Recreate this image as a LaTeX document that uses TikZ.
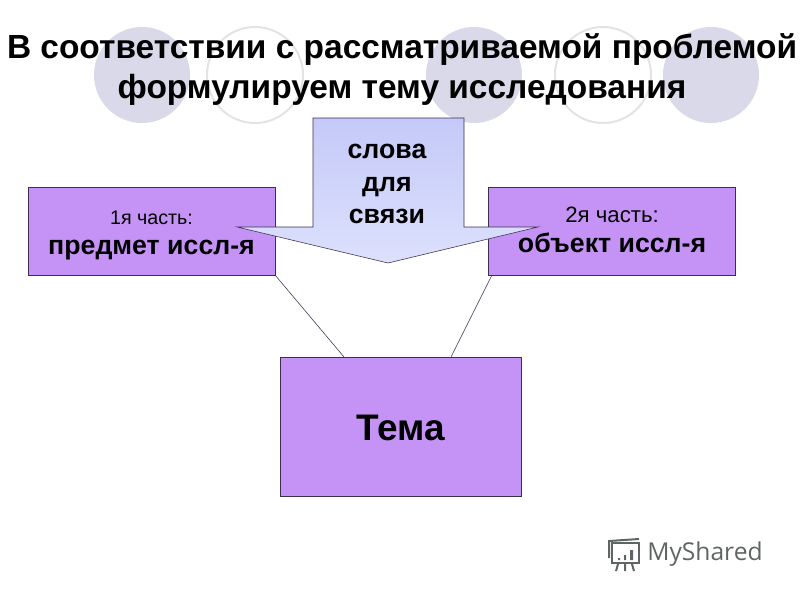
\documentclass[tikz,border=0pt]{standalone}
\usepackage{fontspec}
\setmainfont{Liberation Sans}
\newfontfamily\logofont{Open Sans}
\usetikzlibrary{positioning,calc}
\definecolor{boxfill}{HTML}{C593F6}
\definecolor{boxline}{HTML}{3C2F4E}
\definecolor{discfill}{HTML}{D9D9E9}
\definecolor{ringline}{HTML}{E3E3E3}
\definecolor{arrowtop}{HTML}{C4C9F8}
\definecolor{arrowlow}{HTML}{DDE1FD}
\definecolor{logogray}{HTML}{5E6664}
\newcommand{\partlabel}[4]{\raisebox{#1}[\height][\depth]{\parbox{60mm}{\centering{\fontsize{#2}{21.3}\selectfont\mdseries #3}\\#4}}}
\tikzset{
    semithick,
    disc/.style = {circle, fill=discfill, minimum size=24mm, inner sep=0pt},
    ring/.style = {circle, draw=ringline, line width=0.5mm, minimum size=24mm, inner sep=0pt},
    part/.style = {rectangle, draw=boxline, fill=boxfill, minimum width=61.75mm, minimum height=22mm, align=center, inner sep=0pt, font=\fontsize{19}{21.3}\selectfont\bfseries},
    theme/.style = {part, minimum width=60.25mm, minimum height=34.75mm, font=\fontsize{26.3}{30}\selectfont\bfseries},
    link/.style = {draw=boxline, thin}
}
\begin{document}
\begin{tikzpicture}[x=0.25mm,y=-0.25mm]
	\useasboundingbox (0,0) rectangle (800,600);

	% circles behind the heading
	\node[disc] (c1) at (142,75) {};
	\node[ring] (c2) at (255,75) {};
	\node[disc] (c3) at (474,75) {};
	\node[ring] (c4) at (603,75) {};
	\node[disc] (c5) at (711,75) {};

	\node (title) at (402,69.5) [align=center, font=\fontsize{23.8}{28.4}\selectfont\bfseries]
		{В соответствии с рассматриваемой проблемой\\формулируем тему исследования};

	\node[part] (left) at (151.5,231) {\partlabel{-3pt}{14}{1я часть:}{предмет иссл-я}};
	\node[part, right = 53.25mm of left] (right) {\partlabel{1pt}{15.8}{2я часть:}{объект иссл-я}};
	\node[theme] (tema) at (400.5,426.5) {\raisebox{-0.7pt}[\height][\depth]{Тема}};

	\coordinate (temaL) at (344,357);
	\coordinate (temaR) at (451,357);
	\coordinate (rightS) at (492,275);
	\draw[link] (left.south east) -- (temaL);
	\draw[link] (rightS) -- (temaR);

	% big arrow over the boxes
	\draw[boxline, thin, top color=arrowtop, bottom color=arrowlow]
		(313,118) -- (464,118) -- (464,227) -- (538,227) -- (388,263)
		-- (237,227) -- (313,227) -- cycle;
	\node (words) at (387,184) [align=center, font=\fontsize{19}{23}\selectfont\bfseries] {слова\\для\\связи};

	% logo
	\begin{scope}[draw=logogray, line width=0.5mm]
		\draw (612,543) rectangle (639,563);
		\draw (609,558) -- (609,541) -- (639,539);
		\draw (618,564) -- (616,571) (625,564) -- (625,571) (632,564) -- (634,571);
		\fill[logogray] (618,558) rectangle (620,560) (624,555) rectangle (626,560) (630,550) rectangle (633,560);
	\end{scope}
	\node (logo) at (705,554) [text=logogray, font=\logofont\fontsize{17.5}{22}\selectfont] {MyShared};
\end{tikzpicture}
\end{document}
